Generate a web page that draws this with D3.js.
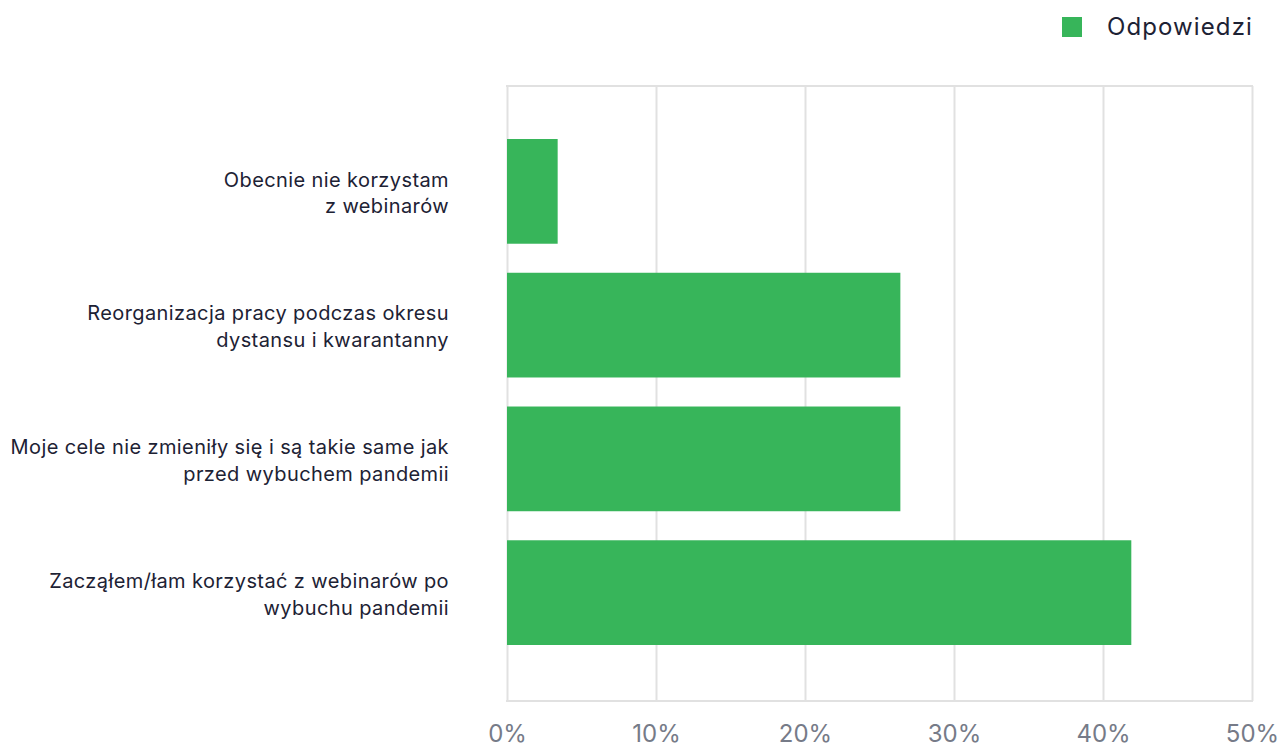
<!DOCTYPE html>
<html>
<head>
<meta charset="utf-8">
<script src="https://cdn.jsdelivr.net/npm/d3@7"></script>
<style>
  html, body { margin: 0; padding: 0; background: #ffffff; }
  svg { display: block; }
</style>
</head>
<body>
<svg id="chart" width="1281" height="749"></svg>
<script>
// Survey answers, top to bottom
const categories = [
  ["Obecnie nie korzystam", "z webinarów"],
  ["Reorganizacja pracy podczas okresu", "dystansu i kwarantanny"],
  ["Moje cele nie zmieniły się i są takie same jak", "przed wybuchem pandemii"],
  ["Zacząłem/łam korzystać z webinarów po", "wybuchu pandemii"]
];
const values = [3.4, 26.4, 26.4, 41.9];
const tickValues = [0, 10, 20, 30, 40, 50];
const seriesName = "Odpowiedzi";

const W = 1281, H = 749;
const margin = { top: 86, right: 29, bottom: 48, left: 507 };
const svg = d3.select("#chart");
const FONT = "Inter, 'Open Sans', sans-serif";
const GREEN = "#37b55a";
const GRID = "#e1e1e1";

const x = d3.scaleLinear().domain([0, 50]).range([margin.left, W - margin.right]);
const y = d3.scaleBand()
  .domain(d3.range(categories.length))
  .range([margin.top - 0.5, H - margin.bottom - 2.5])
  .paddingInner(0.217)
  .paddingOuter(0.4);

// vertical grid lines from the x axis ticks
const xAxis = d3.axisBottom(x).tickValues(tickValues).tickFormat(d => d + "%")
  .tickSize(-(H - margin.bottom - margin.top)).tickPadding(41);
const gx = svg.append("g")
  .attr("transform", `translate(0,${H - margin.bottom})`)
  .call(xAxis);
gx.select(".domain").remove();
gx.selectAll(".tick line").attr("stroke", GRID).attr("stroke-width", 2);
gx.selectAll(".tick text")
  .attr("fill", "#767b88")
  .attr("font-family", FONT)
  .attr("font-size", 24)
  .attr("dy", 0);

// top and bottom frame lines
svg.append("line")
  .attr("x1", x(0) - 1).attr("x2", x(50) + 1)
  .attr("y1", margin.top).attr("y2", margin.top)
  .attr("stroke", GRID).attr("stroke-width", 2);
svg.append("line")
  .attr("x1", x(0) - 1).attr("x2", x(50) + 1)
  .attr("y1", H - margin.bottom).attr("y2", H - margin.bottom)
  .attr("stroke", GRID).attr("stroke-width", 2);

// bars
svg.append("g").selectAll("rect")
  .data(values)
  .join("rect")
  .attr("x", x(0))
  .attr("y", (d, i) => y(i))
  .attr("width", d => x(d) - x(0))
  .attr("height", y.bandwidth())
  .attr("fill", GREEN);

// category labels, two lines each
const labels = svg.append("g").selectAll("text")
  .data(categories)
  .join("text")
  .attr("x", margin.left - 58)
  .attr("y", (d, i) => y(i) + y.bandwidth() / 2)
  .attr("text-anchor", "end")
  .attr("fill", "#1d2234")
  .attr("font-family", FONT)
  .attr("font-size", 20)
  .attr("letter-spacing", 0.4);
labels.selectAll("tspan")
  .data(d => d)
  .join("tspan")
  .attr("x", margin.left - 58)
  .attr("dy", (d, i) => i === 0 ? -4.8 : 26.7)
  .text(d => d);

// legend
const lg = svg.append("g");
lg.append("rect")
  .attr("x", 1062).attr("y", 17).attr("width", 20).attr("height", 20)
  .attr("fill", GREEN);
lg.append("text")
  .attr("x", 1107).attr("y", 35)
  .attr("fill", "#1d2234")
  .attr("font-family", FONT)
  .attr("font-size", 24)
  .attr("letter-spacing", 1.1)
  .text(seriesName);
</script>
</body>
</html>
